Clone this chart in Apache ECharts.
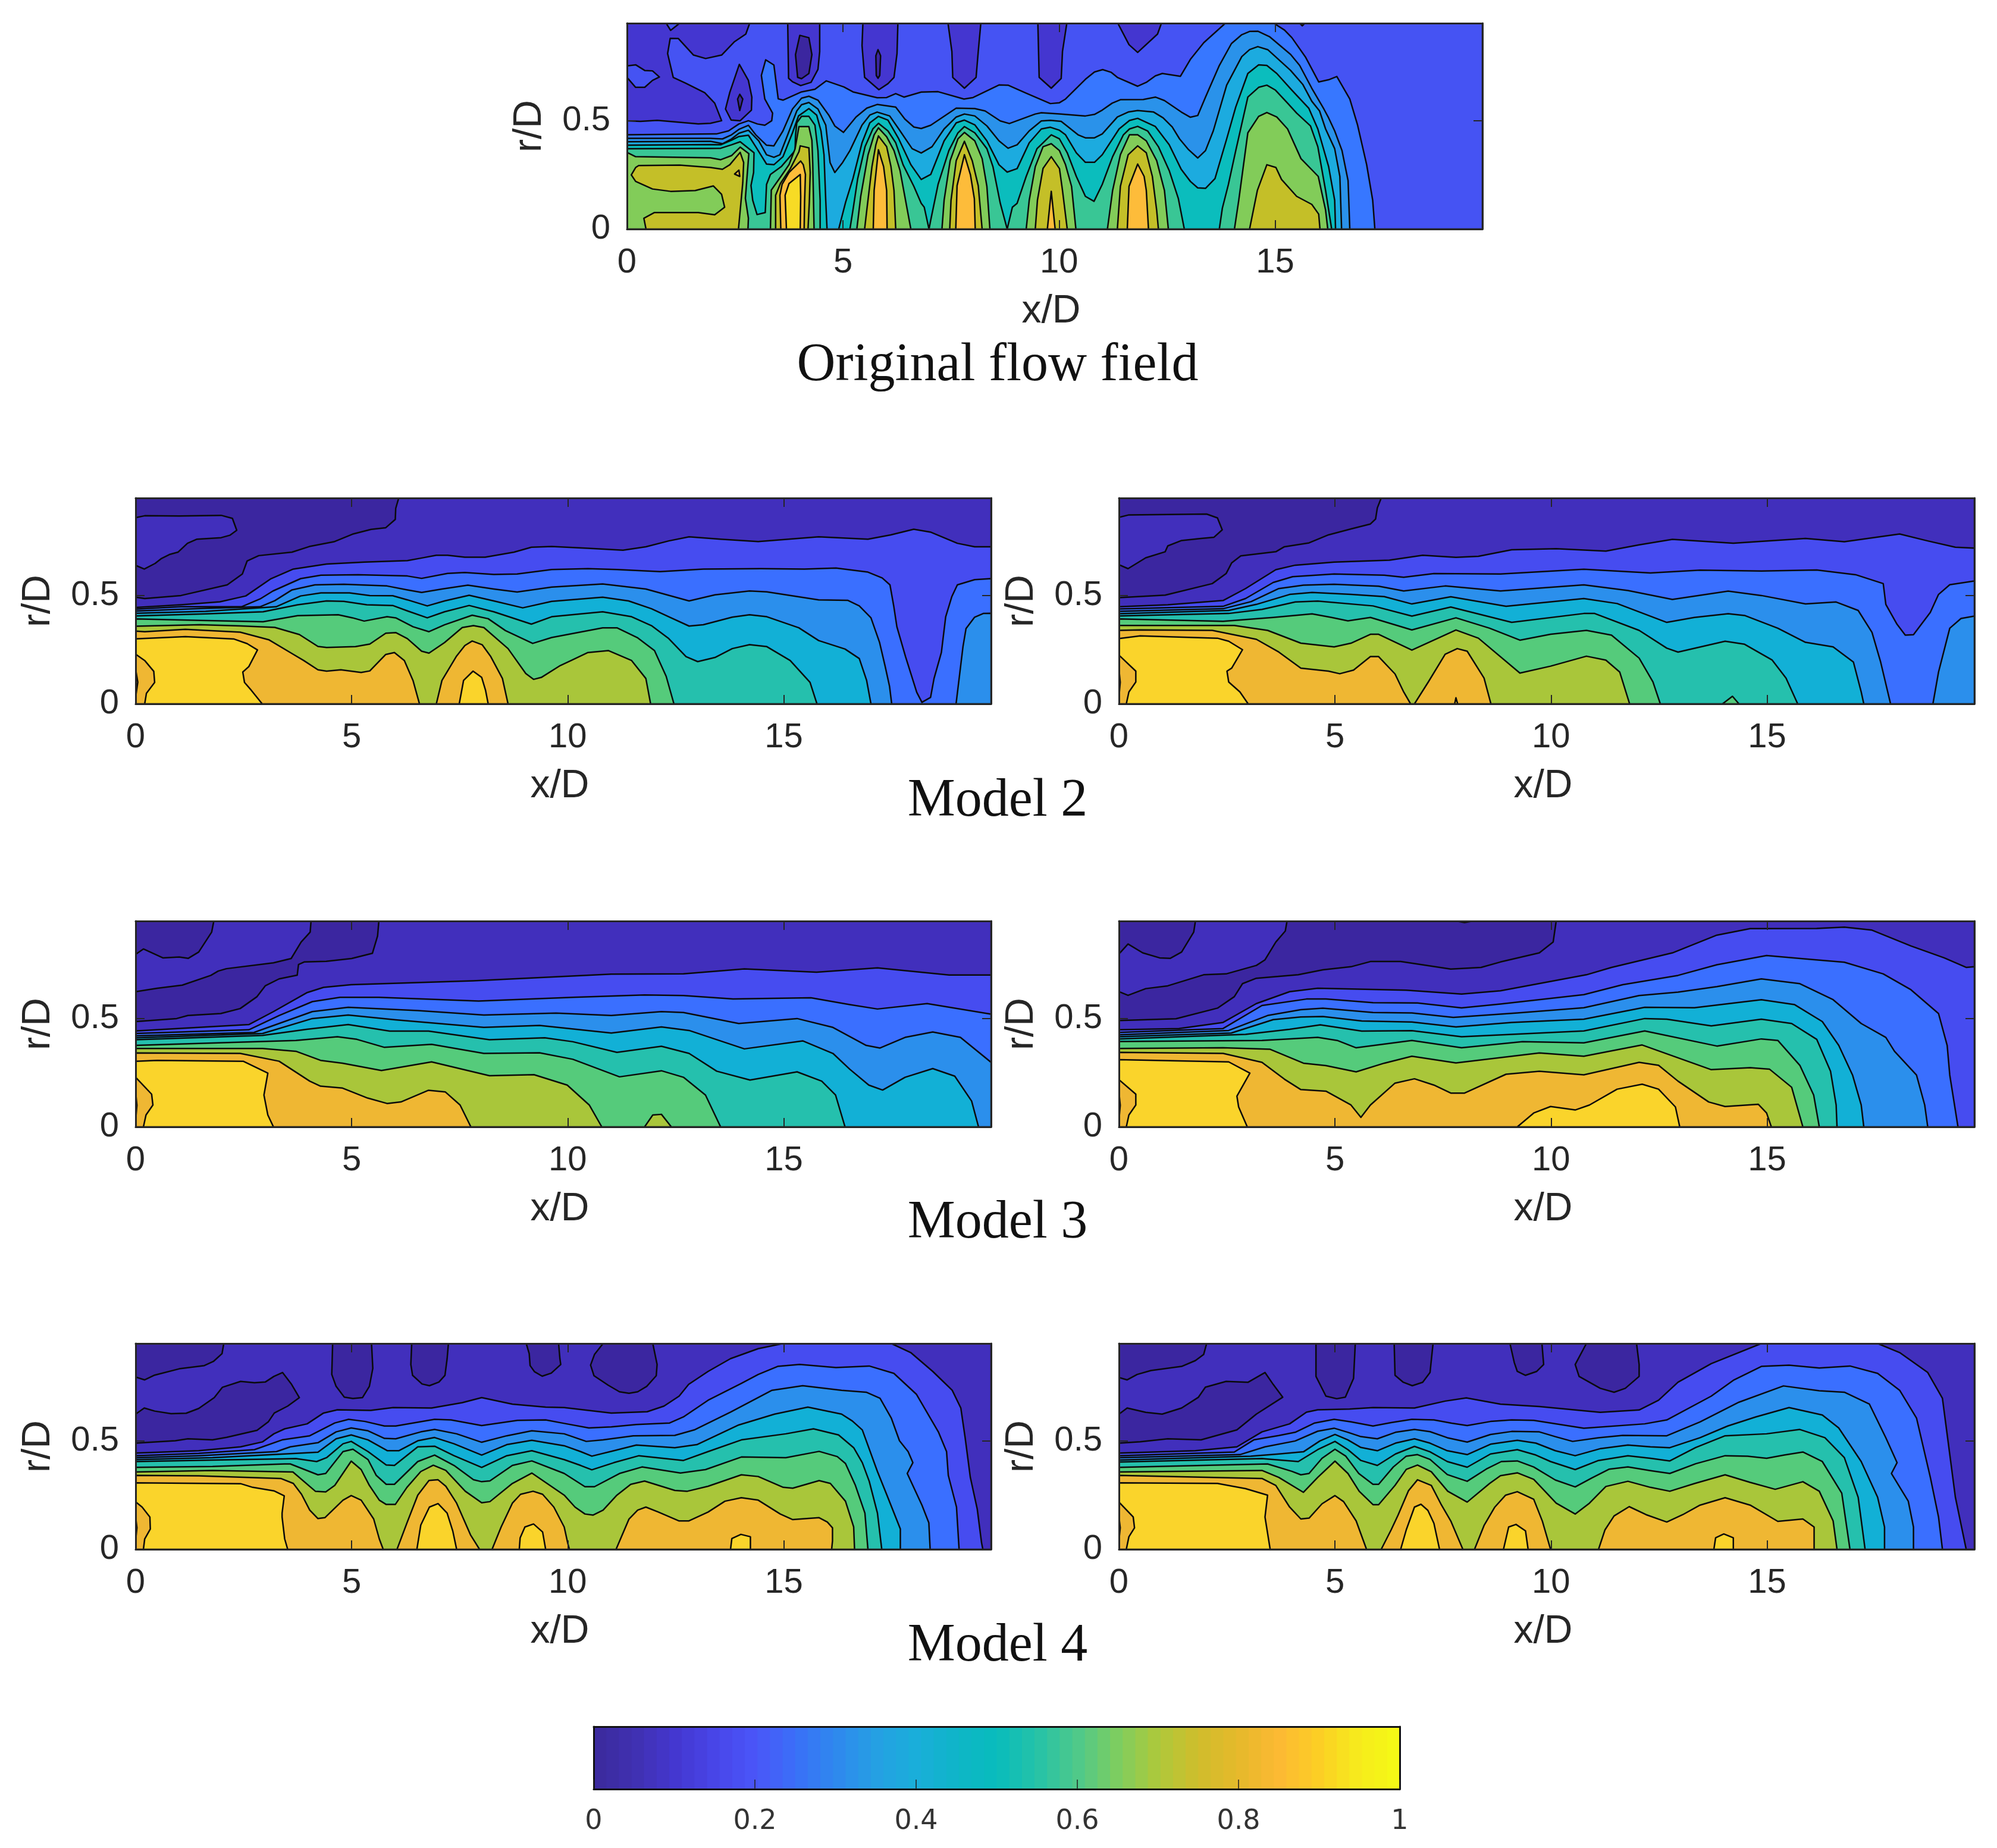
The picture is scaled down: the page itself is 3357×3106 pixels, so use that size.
<!DOCTYPE html>
<html><head><meta charset="utf-8"><style>html,body{margin:0;padding:0;background:#fff}#c{width:3357px;height:3106px}</style>
<script src="https://cdn.jsdelivr.net/npm/echarts@6/dist/echarts.min.js"></script></head><body><div id="c"></div>
<script>
// Tick labels
const xTicks=[0,5,10,15], rTicks=[0,0.5], cbTicks=[0,0.2,0.4,0.6,0.8,1];
const titles=['Original flow field','Model 2','Model 3','Model 4'];
// Filled contour regions: [band, [x,r, x,r, ...]] painted in order
const origRegions=[
[2,[0,0,19.8,0,19.8,.95,0,.95]],
[1,[0,.95,.907,.95,1.01,.917,1.22,.95,2.84,.95,2.75,.9,2.49,.865,2.19,.803,1.82,.787,1.54,.803,1.19,.879,1,.88,.94,.81,1.07,.7,1.36,.673,1.8,.629,2.03,.581,2.19,.5,1.93,.488,1.65,.485,.7,.502,.31,.497,0,.5,0,.7,.2,.654,.41,.654,.59,.686,.75,.702,.59,.73,.41,.732,.2,.758,0,.753]],
[1,[2.6,.76,2.81,.686,2.89,.609,2.88,.549,2.62,.5,2.41,.503,2.28,.554,2.38,.631]],
[0,[2.61,.622,2.68,.6,2.61,.547,2.56,.6]],
[1,[3.72,.95,3.74,.696,3.83,.68,4.02,.662,4.26,.677,4.42,.737,4.46,.819,4.46,.95]],
[0,[4,.894,4.21,.883,4.28,.805,4.21,.718,4.04,.694,3.95,.7,3.9,.805]],
[1,[5.46,.95,5.44,.847,5.5,.7,5.83,.643,6.04,.671,6.18,.7,6.25,.81,6.27,.95]],
[0,[5.81,.828,5.87,.8,5.85,.709,5.81,.696,5.77,.709,5.76,.8]],
[1,[7.43,.95,7.52,.819,7.54,.7,7.81,.65,8.08,.7,8.13,.819,8.19,.95]],
[1,[9.51,.95,9.54,.7,9.82,.65,10.05,.695,10.08,.82,10.18,.95]],
[1,[11.36,.95,11.62,.851,11.82,.815,12.28,.9,12.37,.95]],
[1,[15.57,.95,15.63,.938,15.69,.95]],
[3,[0,.435,2.07,.439,2.35,.453,2.59,.485,2.81,.5,3.02,.485,3.19,.479,3.35,.5,3.37,.535,3.19,.6,3.11,.709,3.21,.781,3.4,.757,3.5,.601,3.61,.595,4.04,.633,4.35,.645,4.61,.684,5.02,.656,5.23,.633,5.79,.606,6.01,.607,6.22,.625,6.41,.609,6.81,.632,7.2,.634,7.8,.6,8.01,.607,8.61,.665,8.82,.664,9.24,.627,9.8,.579,10.01,.583,10.15,.6,10.61,.691,10.82,.725,11.01,.736,11.21,.723,11.35,.7,11.82,.659,12.02,.677,12.23,.707,12.39,.718,12.81,.705,13.04,.783,13.35,.86,13.85,.95,14.97,.95,15.22,.918,15.39,.883,15.71,.792,16.01,.679,16.24,.689,16.43,.704,16.73,.6,16.91,.48,17.12,.297,17.26,.133,17.31,0,0,0]],
[4,[0,.419,1.93,.419,2.21,.416,2.42,.435,2.59,.46,2.81,.479,2.98,.435,3.23,.387,3.4,.384,3.61,.453,3.83,.554,4.04,.604,4.21,.613,4.42,.595,4.67,.526,4.81,.476,5.01,.446,5.3,.517,5.55,.558,5.79,.575,6.22,.563,6.43,.508,6.64,.471,6.81,.464,7.03,.479,7.62,.558,8.05,.556,8.29,.545,8.64,.499,8.85,.487,9.45,.531,9.59,.537,10.01,.531,10.61,.522,10.82,.529,11,.549,11.23,.581,11.42,.597,11.95,.598,12.23,.609,12.44,.593,12.83,.54,13.04,.516,13.21,.524,13.39,.609,13.71,.755,13.99,.856,14.23,.897,14.41,.912,14.6,.913,14.87,.888,15.36,.806,15.57,.755,15.85,.65,16.13,.554,16.24,.513,16.38,.453,16.55,.362,16.69,.224,16.73,0,0,0]],
[5,[0,.403,1.93,.405,2.21,.394,2.42,.416,2.59,.442,2.81,.456,3.05,.407,3.23,.343,3.4,.331,3.54,.343,3.72,.435,3.93,.545,4.04,.574,4.21,.584,4.42,.554,4.6,.48,4.7,.307,4.81,.261,4.99,.307,5.16,.362,5.44,.48,5.62,.526,5.79,.54,6.08,.522,6.29,.462,6.6,.371,6.81,.351,7.06,.38,7.34,.462,7.62,.517,7.81,.531,8.05,.522,8.33,.476,8.61,.407,8.82,.373,9.03,.389,9.31,.453,9.59,.499,9.8,.502,10.05,.497,10.44,.435,10.61,.421,10.82,.421,11,.439,11.35,.517,11.6,.54,11.82,.547,12.19,.54,12.41,.513,12.62,.471,12.79,.416,13,.366,13.21,.328,13.39,.362,13.57,.453,13.88,.664,14.23,.796,14.41,.828,14.6,.842,14.83,.828,15.08,.783,15.36,.732,15.64,.668,15.85,.59,16.03,.545,16.17,.462,16.38,.371,16.5,.243,16.54,0,0,0]],
[6,[0,.387,1.93,.39,2.17,.389,2.42,.41,2.59,.427,2.81,.433,2.98,.38,3.23,.3,3.4,.297,3.61,.334,3.83,.444,3.97,.522,4.21,.556,4.39,.526,4.49,.453,4.56,.343,4.6,.133,4.63,0,0,0]],
[6,[4.9,0,5.06,.124,5.23,.233,5.44,.398,5.62,.49,5.82,.52,6.04,.503,6.29,.416,6.57,.297,6.81,.229,7.03,.252,7.34,.407,7.62,.49,7.81,.503,8.05,.481,8.33,.407,8.61,.297,8.8,.263,9.03,.279,9.31,.398,9.59,.462,9.8,.47,10.01,.456,10.15,.435,10.4,.352,10.61,.308,10.82,.308,11,.343,11.39,.462,11.63,.501,11.82,.511,12.23,.473,12.55,.389,12.83,.275,13.04,.22,13.21,.19,13.39,.188,13.61,.233,13.88,.416,14.09,.563,14.37,.718,14.62,.758,14.81,.755,15.04,.718,15.39,.641,15.78,.558,15.99,.462,16.24,.288,16.38,.133,16.4,0]],
[7,[0,.371,1.93,.372,2.17,.373,2.42,.389,2.62,.403,2.94,.352,2.93,.261,2.87,.201,2.91,.133,3.01,.067,3.2,.076,3.23,.206,3.32,.252,3.57,.288,3.89,.362,3.9,.43,3.93,.49,4.04,.52,4.21,.52,4.35,.48,4.42,.362,4.47,.133,4.47,0,0,0]],
[7,[5.16,0,5.23,.087,5.34,.233,5.51,.38,5.69,.462,5.82,.488,6.04,.453,6.22,.398,6.39,.297,6.64,.197,6.81,.119,6.88,.101,6.99,0,7.03,.041,7.2,.206,7.45,.362,7.66,.444,7.81,.473,8.05,.444,8.33,.371,8.47,.288,8.64,.119,8.8,0,8.92,.101,9.03,.119,9.24,.243,9.49,.371,9.82,.435,10.01,.416,10.19,.352,10.4,.243,10.61,.151,10.81,.128,11,.206,11.24,.334,11.49,.435,11.63,.462,11.82,.474,12.05,.453,12.3,.38,12.55,.27,12.76,.142,12.9,0]],
[7,[13.71,0,13.78,.096,13.92,.206,14.09,.362,14.37,.609,14.62,.654,14.81,.664,15.01,.641,15.29,.581,15.5,.535,15.82,.476,15.99,.38,16.17,.178,16.31,0]],
[8,[0,.354,.2,.334,1.93,.329,2.17,.32,2.42,.339,2.62,.378,2.82,.348,2.74,.142,2.81,.05,2.8,0,0,0]],
[8,[3.32,0,3.34,.18,3.57,.245,3.75,.297,3.89,.37,3.98,.473,4.21,.473,4.28,.41,4.3,.3,4.33,0]],
[8,[5.32,0,5.41,.151,5.58,.343,5.72,.435,5.82,.467,6.01,.426,6.18,.362,6.32,.27,6.45,.13,6.57,0]],
[8,[7.29,0,7.34,.133,7.48,.316,7.66,.416,7.81,.446,8.05,.407,8.22,.325,8.33,.197,8.4,0]],
[8,[9.24,0,9.31,.133,9.45,.288,9.63,.38,9.82,.394,10.01,.362,10.15,.297,10.29,.197,10.39,0]],
[8,[11.12,0,11.24,.178,11.42,.343,11.63,.435,11.82,.435,12.02,.407,12.26,.316,12.44,.178,12.53,0]],
[8,[14.06,0,14.16,.133,14.37,.444,14.62,.52,14.81,.538,15.04,.517,15.29,.462,15.6,.325,16,.243,16.17,.087,16.22,0]],
[9,[.1,.25,.2,.284,.27,.293,1.22,.295,1.93,.284,2.21,.276,2.38,.297,2.62,.354,2.7,.307,2.68,.215,2.58,0,.44,0,.39,.05,.63,.076,1.65,.076,2.03,.066,2.26,.101,2.19,.16,2,.199,1.58,.178,1.01,.174,.59,.185,.2,.22]],
[10,[2.59,.272,2.49,.254,2.61,.243]],
[9,[3.44,0,3.44,.156,3.55,.21,3.78,.279,3.98,.357,4.01,.384,4.21,.375,4.24,.261,4.22,.124,4.19,0]],
[10,[3.56,0,3.54,.156,3.59,.206,3.75,.261,4.02,.314,4.08,.297,4.13,.252,4.11,.124,4.1,0]],
[11,[3.69,0,3.66,.156,3.75,.21,4.01,.252,4.02,.15,4.01,0]],
[9,[5.5,0,5.55,.087,5.67,.288,5.76,.389,5.82,.43,6.01,.38,6.11,.288,6.18,.178,6.22,0]],
[10,[5.7,0,5.72,.178,5.82,.366,5.94,.288,6.01,.178,6.02,0]],
[9,[7.47,0,7.5,.133,7.62,.316,7.81,.405,7.99,.316,8.13,.2,8.22,0]],
[10,[7.61,0,7.64,.2,7.81,.343,7.95,.25,8.04,.14,8.06,0]],
[9,[9.45,0,9.5,.133,9.63,.28,9.82,.334,10.01,.279,10.08,.178,10.19,0]],
[10,[9.73,0,9.82,.174,9.91,0]],
[9,[11.35,0,11.42,.197,11.6,.343,11.82,.384,12.02,.352,12.16,.243,12.26,.087,12.3,0]],
[10,[11.58,0,11.62,.197,11.82,.3,11.97,.243,12.02,.178,12.07,0]],
[9,[14.41,0,14.59,.178,14.81,.297,15.02,.284,15.15,.229,15.5,.151,15.85,.114,16.01,.069,16.04,0]]
];
const model2LeftRegions=[
[0,[0,0,19.8,0,19.8,.95,0,.95]],
[1,[0,.859,.21,.868,1.01,.867,1.98,.87,2.24,.856,2.34,.801,2.18,.778,1.98,.767,1.42,.76,1.2,.741,.98,.7,.78,.689,.6,.671,.45,.648,.2,.622,0,.639]],
[1,[0,.492,.21,.486,1.05,.5,2.12,.549,2.47,.599,2.58,.659,2.85,.684,3.62,.7,4.02,.726,4.59,.748,5.02,.783,5.45,.805,5.79,.813,6.01,.851,6.02,.902,6.09,.95,19.8,.95,19.8,0,0,0]],
[2,[0,.445,1.05,.457,1.95,.471,2.55,.498,3.12,.576,3.65,.622,4.42,.645,5.29,.654,6.29,.661,6.62,.673,6.96,.686,7.22,.686,7.62,.677,8.09,.677,8.76,.7,9.16,.723,9.63,.726,10.47,.718,11.28,.709,11.81,.725,12.34,.752,12.81,.771,13.54,.76,14.41,.749,15.81,.771,16.95,.76,17.48,.78,18.01,.806,18.41,.792,19.02,.741,19.42,.725,19.8,.725,19.8,0,0,0]],
[3,[0,.437,1.05,.448,2.45,.448,2.88,.484,3.18,.521,3.82,.578,4.29,.594,5.15,.596,6.29,.59,6.62,.579,7.22,.602,7.62,.606,8.29,.597,8.83,.599,9.63,.62,10.47,.624,11.14,.62,12.14,.61,13.14,.622,14.48,.624,15.48,.622,16.21,.627,16.95,.608,17.28,.581,17.46,.549,17.55,.448,17.62,.356,17.82,.218,18.08,.053,18.2,.007,18.4,.03,18.48,.117,18.65,.237,18.75,.402,18.89,.494,19.02,.549,19.42,.573,19.8,.578,19.8,0,0,0]],
[4,[0,.428,1.5,.44,2.88,.448,3.22,.476,3.62,.526,4.15,.549,4.82,.552,5.82,.544,6.29,.526,6.62,.514,7.09,.53,7.69,.548,8.29,.53,8.83,.516,9.63,.539,10.81,.553,11.81,.53,12.81,.475,13.41,.503,14.21,.521,14.61,.517,15.81,.48,16.48,.478,16.75,.452,17.02,.397,17.22,.283,17.35,.172,17.45,.081,17.5,0,0,0]],
[4,[18.99,0,19.15,.264,19.22,.347,19.42,.4,19.62,.417,19.8,.418,19.8,0]],
[5,[0,.418,1.62,.427,3.25,.448,3.82,.498,4.29,.512,4.95,.512,5.42,.5,5.95,.499,6.29,.48,6.75,.452,7.15,.475,7.72,.501,8.29,.475,8.96,.443,9.63,.473,10.81,.492,11.41,.475,11.94,.439,12.34,.402,12.81,.359,13.14,.365,13.81,.4,14.21,.411,14.61,.402,15.35,.351,15.81,.292,16.42,.253,16.75,.209,16.92,.108,17.02,0,0,0]],
[6,[0,.406,1.62,.415,2.95,.425,3.75,.457,4.42,.475,4.82,.473,5.35,.457,5.95,.454,6.29,.429,6.75,.397,7.15,.425,7.72,.454,8.29,.425,9.16,.368,9.63,.402,10.81,.425,11.48,.402,11.94,.361,12.34,.301,12.74,.218,13.01,.195,13.41,.214,13.81,.255,14.21,.273,14.61,.264,15.15,.2,15.61,.099,15.77,0,0,0]],
[7,[0,.392,1.5,.385,2.95,.379,3.75,.407,4.69,.411,5.02,.397,5.29,.382,5.82,.402,6.02,.397,6.42,.356,6.79,.333,7.15,.365,7.79,.409,8.16,.393,8.56,.338,9.19,.279,9.63,.306,10.21,.328,10.81,.351,11.14,.351,11.61,.306,12.01,.246,12.28,.127,12.46,0,0,0]],
[8,[0,.358,1.49,.365,2.42,.36,3.22,.353,3.79,.32,4.22,.265,4.42,.26,5.09,.264,5.42,.276,5.79,.326,6.02,.329,6.29,.301,6.62,.243,6.79,.234,7.15,.283,7.56,.352,7.82,.361,8.06,.352,8.62,.255,9.03,.14,9.21,.113,9.39,.122,9.83,.177,10.08,.2,10.47,.237,10.94,.246,11.48,.2,11.81,.117,11.92,0,0,0]],
[9,[0,.336,.21,.333,1.15,.344,2.42,.331,3.08,.296,3.62,.232,3.89,.2,4.22,.157,4.42,.151,4.75,.157,5.22,.145,5.42,.152,5.79,.228,5.99,.237,6.22,.2,6.42,.108,6.57,0,0,0]],
[9,[6.96,0,7.09,.108,7.42,.218,7.62,.269,7.79,.29,8.02,.273,8.22,.218,8.49,.117,8.62,0]],
[10,[0,.3,1.15,.31,2.28,.299,2.58,.278,2.82,.249,2.62,.172,2.48,.147,2.52,.099,2.68,.062,2.93,0,.21,0,.25,.049,.44,.099,.42,.15,.21,.2,0,.229]],
[10,[7.49,0,7.59,.108,7.81,.151,8.01,.122,8.1,.062,8.16,0]],
[9,[0,.16,.05,.1,0,.03]]
];
const model2RightRegions=[
[0,[0,0,19.8,0,19.8,.95,0,.95]],
[1,[0,.861,.23,.872,2.03,.876,2.28,.858,2.39,.803,2.2,.769,1.9,.763,1.45,.754,1.13,.729,1.07,.702,.62,.674,.21,.624,0,.642]],
[1,[0,.49,1.07,.502,2.16,.555,2.48,.601,2.61,.651,2.82,.683,3.63,.702,3.83,.725,4.4,.743,4.85,.78,5.37,.807,5.82,.83,5.94,.853,5.98,.904,6.07,.95,19.8,.95,19.8,0,0,0]],
[2,[0,.448,1.13,.457,2.41,.477,2.93,.532,3.63,.619,4.08,.64,4.98,.654,6.26,.663,7.03,.686,7.8,.676,8.32,.681,9.09,.711,10.12,.716,11.27,.705,12.04,.734,12.81,.759,14.22,.741,15.89,.763,16.79,.748,18.07,.784,18.72,.752,19.36,.723,19.8,.719,19.8,0,0,0]],
[3,[0,.438,2.41,.45,2.93,.486,3.57,.56,4.02,.587,4.98,.599,6.14,.594,6.59,.584,7.29,.601,8.83,.599,10.76,.621,12.3,.604,13.45,.617,14.87,.613,16.15,.618,17.05,.596,17.69,.555,17.75,.459,18.01,.367,18.2,.317,18.39,.319,18.78,.422,18.97,.505,19.23,.55,19.8,.567,19.8,0,0,0]],
[4,[0,.427,2.41,.439,3.06,.472,3.7,.532,4.27,.548,4.98,.552,6.01,.543,6.59,.521,7.55,.544,8.83,.521,10.76,.549,11.78,.523,12.81,.482,14.1,.52,14.87,.5,15.89,.461,16.6,.47,17.11,.431,17.43,.33,17.63,.193,17.86,0,0,0]],
[4,[18.84,0,18.97,.147,19.23,.349,19.49,.394,19.8,.405,19.8,0]],
[5,[0,.416,2.54,.431,3.18,.459,3.95,.505,4.47,.514,5.37,.505,6.14,.495,6.78,.461,7.68,.494,8.96,.45,10.76,.486,11.53,.463,12.68,.376,13.32,.399,14.1,.416,14.48,.408,15.25,.349,15.89,.284,16.53,.263,17,.193,17.18,.055,17.24,0,0,0]],
[6,[0,.406,2.54,.417,3.31,.436,4.08,.47,4.6,.474,5.88,.452,6.78,.405,7.68,.447,9.09,.376,10.76,.417,11.01,.417,12.04,.339,12.68,.257,12.94,.239,14.03,.289,14.48,.275,15.12,.202,15.44,.119,15.71,0,0,0]],
[7,[0,.392,2.41,.381,3.57,.399,4.47,.415,4.92,.399,5.3,.383,5.82,.399,6.78,.341,7.8,.397,8.58,.349,9.28,.294,9.99,.321,10.82,.339,11.4,.317,12.04,.211,12.36,.101,12.53,0,0,0]],
[7,[13.97,0,14.2,.035,14.35,0]],
[8,[0,.362,2.67,.362,3.44,.339,4.21,.28,4.98,.263,5.37,.28,5.82,.321,6.01,.321,6.78,.248,7.8,.341,8.32,.303,9.28,.142,9.99,.174,10.82,.22,11.27,.202,11.59,.147,11.82,0,0,0]],
[9,[0,.339,.49,.341,2.16,.339,3.18,.298,3.7,.239,4.21,.165,4.85,.151,5.11,.139,5.43,.156,5.82,.218,6.01,.218,6.39,.138,6.59,.055,6.75,0,0,0]],
[9,[6.84,0,7.16,.101,7.55,.229,7.83,.255,8.06,.243,8.45,.119,8.61,0]],
[10,[0,.301,.49,.314,2.28,.303,2.54,.289,2.86,.25,2.61,.165,2.5,.151,2.54,.101,2.8,.055,2.99,0,.17,0,.23,.055,.39,.101,.39,.151,0,.225]],
[10,[7.77,0,7.8,.028,7.84,0]],
[9,[0,.16,.03,.1,0,.03]]
];
const model3LeftRegions=[
[0,[0,0,19.8,0,19.8,.95,0,.95]],
[1,[0,.796,.18,.821,.63,.78,1.01,.784,1.22,.778,1.46,.807,1.76,.899,1.81,.95,4.06,.95,4.04,.899,3.83,.853,3.6,.777,3.19,.757,2.1,.73,1.91,.719,1.74,.699,1.08,.654,.5,.64,0,.624]],
[1,[0,.486,.95,.5,1.21,.514,1.97,.523,2.42,.546,2.81,.601,3,.651,3.32,.683,3.74,.7,3.77,.749,3.9,.761,4.41,.764,5,.777,5.48,.801,5.6,.881,5.63,.95,19.8,.95,19.8,0,0,0]],
[2,[0,.443,2.62,.472,3.19,.532,3.96,.619,4.35,.644,4.99,.656,7.81,.674,11.01,.705,12.68,.706,14.09,.729,15.76,.714,17.17,.734,18.83,.701,19.8,.701,19.8,0,0,0]],
[3,[0,.431,2.62,.448,3.32,.514,4.09,.578,4.73,.598,5.63,.598,7.94,.581,10.12,.598,11.78,.609,12.68,.606,13.83,.59,15.63,.596,16.53,.564,17.17,.544,18.32,.569,19.8,.52,19.8,0,0,0]],
[4,[0,.42,2.74,.436,4.09,.532,4.92,.552,6.53,.537,8.06,.516,9.73,.525,11.01,.514,12.17,.532,12.68,.528,13.96,.477,15.31,.5,16.14,.459,16.91,.376,17.23,.364,17.81,.413,18.45,.438,19.09,.413,19.8,.298,19.8,0,0,0]],
[5,[0,.411,2.94,.431,4.09,.5,4.92,.516,6.01,.494,8.06,.459,9.35,.468,11.01,.433,12.17,.461,12.81,.445,14.09,.36,15.44,.397,16.14,.339,16.53,.266,16.97,.193,17.29,.17,17.81,.229,18.45,.269,18.96,.234,19.35,.119,19.51,0,0,0]],
[6,[0,.402,2.94,.422,3.96,.45,4.92,.472,5.88,.442,6.78,.442,8.19,.402,9.47,.411,10.12,.393,11.14,.344,12.17,.372,12.81,.339,13.45,.257,14.22,.216,15.31,.254,15.88,.211,16.2,.147,16.42,0,0,0]],
[7,[0,.376,3.71,.399,4.67,.416,5.12,.404,5.76,.367,6.85,.381,8.06,.339,9.35,.342,10.12,.312,11.2,.231,12.17,.259,12.68,.229,13.19,.147,13.54,0,0,0]],
[8,[0,.362,2.94,.362,3.71,.349,4.28,.307,4.79,.294,5.69,.26,6.85,.3,8.19,.236,9.22,.241,9.99,.193,10.5,.101,10.79,0,0,0]],
[8,[11.78,0,11.97,.055,12.17,.058,12.4,0]],
[9,[0,.341,2.42,.339,3.32,.303,4.03,.211,4.28,.188,4.79,.179,5.37,.133,5.82,.108,6.14,.115,6.78,.169,7.17,.161,7.51,.101,7.76,0,0,0]],
[10,[0,.303,.5,.307,2.49,.303,3.06,.248,2.97,.147,3.06,.055,3.19,0,.18,0,.24,.055,.4,.101,.37,.151,0,.229]],
[9,[0,.16,.03,.1,0,.03]]
];
const model3RightRegions=[
[0,[0,0,19.8,0,19.8,.95,0,.95]],
[1,[0,.798,.21,.844,.55,.803,.94,.78,1.19,.778,1.45,.807,1.73,.899,1.77,.95,3.89,.95,3.85,.904,3.63,.853,3.38,.771,3.18,.745,2.48,.706,1.96,.702,1.13,.651,.62,.638,.21,.607,0,.624]],
[1,[0,.491,1.32,.499,2.28,.548,2.67,.601,2.86,.661,3.18,.686,4.15,.702,4.72,.725,5.37,.739,5.82,.763,6.52,.763,7.68,.728,8.38,.736,8.83,.761,9.73,.803,10.05,.853,10.12,.95,19.8,.95,19.8,0,0,0]],
[1,[7.8,.95,8,.943,8.2,.95]],
[2,[0,.448,1.39,.454,2.41,.482,3.18,.569,3.95,.624,4.6,.64,6.65,.631,7.93,.613,8.83,.628,10.82,.702,11.4,.736,12.81,.803,13.84,.885,14.61,.915,16.15,.916,16.79,.922,17.43,.908,18.33,.835,19.1,.78,19.61,.736,19.8,.739,19.8,0,0,0]],
[3,[0,.436,2.41,.454,3.31,.56,4.34,.59,4.79,.59,5.88,.573,6.91,.572,7.93,.549,8.83,.567,10.76,.61,11.66,.656,12.94,.699,13.84,.748,14.99,.791,15.89,.775,16.79,.76,17.69,.706,18.33,.633,18.97,.523,19.17,.376,19.23,.239,19.42,0,0,0]],
[4,[0,.425,2.54,.445,3.44,.514,4.21,.541,4.72,.548,5.88,.528,6.78,.526,7.74,.505,9.22,.526,10.76,.55,12.04,.606,12.94,.622,13.84,.647,14.87,.683,15.76,.661,16.53,.587,17.18,.477,17.75,.413,17.95,.349,18.46,.239,18.65,.101,18.72,0,0,0]],
[5,[0,.416,2.6,.433,3.57,.495,4.21,.507,4.72,.509,5.62,.489,6.78,.484,7.8,.461,9.09,.482,10.76,.497,12.17,.552,13.32,.55,14.87,.587,15.64,.564,16.28,.486,16.66,.376,16.98,.239,17.18,.101,17.24,0,0,0]],
[6,[0,.406,2.93,.427,3.95,.45,4.66,.471,5.62,.442,6.78,.444,7.93,.416,10.76,.443,12.17,.5,12.68,.497,13.71,.466,14.87,.497,15.57,.477,16.15,.404,16.47,.257,16.6,.101,16.62,0,0,0]],
[7,[0,.394,3.31,.399,4.6,.413,5.05,.399,5.49,.365,6.78,.399,7.93,.365,9.34,.393,10.76,.388,12.17,.443,13.84,.373,14.87,.406,15.25,.399,15.76,.284,16.08,.147,16.21,0,0,0]],
[8,[0,.362,2.41,.365,3.5,.358,4.27,.294,4.79,.283,5.49,.254,6.14,.294,6.78,.326,7.8,.295,9.73,.341,10.76,.326,12.11,.378,13.71,.264,14.61,.273,15.06,.266,15.57,.183,15.83,0,0,0]],
[9,[0,.344,2.41,.339,3.31,.298,3.83,.22,4.21,.172,4.79,.165,5.37,.101,5.6,.044,5.82,.101,6.39,.202,6.84,.222,7.29,.193,7.68,.156,8,.156,8.96,.243,9.73,.257,10.76,.24,12.04,.298,12.49,.284,12.94,.211,13.65,.115,14.03,.094,14.8,.104,14.99,.064,15.1,0,0,0]],
[10,[0,.31,2.54,.3,3.03,.248,2.73,.142,2.77,.092,2.97,0,.17,0,.23,.055,.39,.101,.39,.151,0,.218]],
[10,[9.22,0,9.6,.064,9.99,.094,10.56,.078,10.89,.101,11.53,.174,12.11,.197,12.49,.174,12.88,.092,12.98,0]],
[9,[0,.16,.03,.1,0,.03]]
];
const model4LeftRegions=[
[1,[0,0,19.8,0,19.8,.95,0,.95]],
[0,[0,.95,2.04,.95,2,.903,1.8,.867,1.59,.848,1.01,.833,.44,.804,.21,.782,0,.795]],
[0,[0,.624,.2,.652,.44,.638,.82,.626,1.17,.628,1.46,.65,1.82,.7,2.01,.748,2.43,.775,2.75,.769,3,.772,3.2,.798,3.4,.816,3.61,.761,3.79,.7,3.52,.661,3.21,.629,3.07,.588,2.81,.549,2.11,.517,1.78,.505,1.21,.51,.92,.501,0,.49]],
[0,[4.56,.95,4.54,.807,4.64,.752,4.83,.702,5.03,.696,5.25,.7,5.41,.752,5.49,.835,5.46,.95]],
[0,[6.39,.95,6.37,.853,6.41,.803,6.63,.763,6.8,.755,7.02,.772,7.16,.803,7.21,.88,7.24,.95]],
[0,[9.04,.95,9.11,.903,9.13,.848,9.23,.82,9.41,.799,9.62,.813,9.84,.853,9.82,.88,9.79,.95]],
[0,[10.82,.95,10.62,.899,10.53,.85,10.61,.801,10.94,.757,11.2,.727,11.42,.72,11.62,.727,11.83,.752,12.05,.801,12.07,.853,11.97,.95]],
[2,[0,.444,1.46,.455,2.43,.473,2.94,.496,3.2,.533,3.45,.556,3.97,.579,4.35,.629,4.67,.644,5.44,.641,5.96,.654,6.85,.652,7.56,.677,8.01,.7,8.72,.67,9.49,.656,9.92,.654,11.01,.629,11.84,.635,12.23,.661,12.58,.707,12.8,.761,13.25,.821,13.77,.88,14.41,.926,14.99,.95,17.49,.95,17.94,.908,18.45,.821,18.9,.734,19.1,.652,19.2,.515,19.32,.332,19.48,.186,19.58,.03,19.61,0,0,0]],
[3,[0,.432,1.46,.443,2.75,.46,3.39,.505,4.03,.524,4.61,.583,4.93,.6,5.31,.59,5.76,.569,6.02,.569,6.92,.6,7.3,.597,8.01,.571,8.84,.595,9.49,.597,9.92,.581,10.49,.56,11.01,.565,11.59,.576,12.36,.583,12.68,.611,13.25,.688,14.02,.766,14.41,.807,14.86,.844,15.37,.853,16.21,.839,16.98,.846,17.55,.812,18.07,.716,18.58,.542,18.77,.451,18.81,.341,19,.195,19.06,0,0,0]],
[4,[0,.423,1.46,.432,3.26,.451,3.58,.473,4.22,.492,4.64,.542,4.99,.56,5.38,.547,5.76,.512,6.02,.51,6.6,.542,6.92,.553,7.43,.533,8.01,.494,8.59,.524,9.17,.547,9.92,.533,10.43,.498,10.82,.505,11.52,.524,12.48,.526,12.93,.551,13.77,.633,14.73,.734,15.44,.755,16.34,.734,16.91,.725,17.23,.697,17.49,.606,17.68,.501,17.88,.451,17.99,.4,17.86,.35,18.2,.204,18.36,.122,18.39,0,0,0]],
[5,[0,.414,1.78,.423,3.71,.443,4.22,.448,4.64,.51,4.99,.528,5.38,.505,5.83,.455,6.09,.455,6.53,.501,6.92,.516,7.37,.487,8.01,.435,8.59,.483,9.17,.503,9.92,.478,10.3,.451,10.56,.43,11.07,.455,11.59,.481,12.48,.469,12.99,.483,13.96,.574,14.79,.624,15.56,.656,16.34,.624,16.59,.592,16.82,.551,17.17,.359,17.39,.25,17.7,.094,17.7,0,0,0]],
[6,[0,.405,1.78,.412,3.39,.417,3.71,.419,4.19,.405,4.42,.423,4.8,.487,4.99,.498,5.38,.451,5.8,.389,5.99,.387,6.53,.473,6.92,.476,7.37,.432,8.01,.378,8.59,.432,9.17,.455,9.92,.414,10.3,.387,10.56,.367,11.07,.4,11.65,.432,12.68,.41,13.25,.451,14.02,.505,15.05,.533,15.69,.556,16.27,.528,16.62,.469,16.82,.4,16.98,.314,17.17,.167,17.27,0,0,0]],
[7,[0,.378,1.78,.382,3.45,.394,3.58,.394,4.22,.344,4.4,.35,4.8,.451,5.03,.462,5.38,.414,5.57,.341,5.8,.3,5.99,.3,6.53,.405,6.92,.435,7.37,.387,7.82,.321,8.01,.312,8.2,.316,8.72,.387,9.17,.408,9.92,.35,10.4,.289,10.62,.289,11.2,.35,11.72,.38,12.61,.352,13.19,.368,14.02,.426,15.05,.423,15.82,.452,16.24,.428,16.43,.396,16.66,.295,16.88,.167,16.95,0,0,0]],
[8,[0,.357,1.78,.364,3.64,.357,4.16,.268,4.4,.265,4.61,.295,4.99,.407,5.22,.368,5.41,.295,5.64,.227,5.8,.207,6.01,.207,6.28,.286,6.6,.359,6.89,.388,7.18,.364,7.63,.268,8.01,.215,8.2,.22,8.72,.304,9.17,.352,9.92,.25,10.17,.195,10.4,.163,10.59,.158,10.82,.181,11.14,.25,11.46,.3,11.78,.315,12.48,.272,12.77,.268,13.25,.291,14.02,.344,14.41,.336,14.99,.286,15.21,.282,15.82,.317,16.08,.304,16.43,.222,16.62,.103,16.64,0,0,0]],
[9,[0,.341,1.46,.339,3.36,.327,3.65,.304,3.84,.254,4.03,.181,4.22,.142,4.38,.146,4.8,.227,4.99,.248,5.22,.227,5.51,.14,5.64,.048,5.73,0,0,0]],
[9,[6.05,0,6.28,.122,6.53,.25,6.79,.318,7,.321,7.18,.291,7.43,.213,7.75,.067,7.96,0]],
[9,[8.25,0,8.46,.103,8.72,.213,8.91,.254,9.2,.268,9.42,.254,9.68,.195,9.92,.103,10,.03,10.04,0]],
[9,[11.12,0,11.42,.14,11.62,.181,11.81,.195,12.1,.172,12.58,.131,12.8,.131,13.25,.172,13.64,.222,14.02,.238,14.41,.227,14.92,.163,15.21,.137,15.82,.146,16.01,.126,16.13,.099,16.13,.039,16.11,0]],
[10,[0,.307,2.43,.303,2.71,.286,3.2,.27,3.44,.247,3.39,.167,3.39,.149,3.45,.048,3.52,0,.18,0,.21,.048,.34,.094,.33,.149,.15,.195,0,.219]],
[10,[6.51,0,6.6,.112,6.8,.195,7,.211,7.21,.167,7.34,.085,7.43,0]],
[10,[8.88,0,8.9,.053,9.01,.103,9.21,.117,9.42,.08,9.49,0]],
[10,[13.77,0,13.8,.05,14.01,.069,14.23,.058,14.23,0]],
[9,[0,.15,.03,.1,0,.04]]
];
const model4RightRegions=[
[1,[0,0,19.8,0,19.8,.95,0,.95]],
[0,[0,.95,2.03,.95,1.96,.899,1.77,.871,1.45,.844,.74,.825,.42,.807,.19,.782,0,.793]],
[0,[0,.624,.19,.652,.62,.632,1,.624,1.45,.652,1.84,.702,2,.748,2.48,.775,2.99,.771,3.38,.816,3.57,.761,3.79,.702,3.18,.624,2.73,.551,1.9,.505,1.13,.51,.49,.496,0,.49]],
[0,[4.56,.95,4.56,.798,4.79,.707,5.04,.695,5.24,.702,5.43,.789,5.47,.95]],
[0,[6.37,.95,6.39,.803,6.58,.771,6.79,.755,7.03,.771,7.2,.816,7.27,.95]],
[0,[9.05,.95,9.15,.862,9.22,.821,9.41,.803,9.67,.821,9.83,.853,9.79,.95]],
[0,[10.82,.95,10.56,.853,10.65,.798,11.14,.743,11.46,.725,11.72,.743,12.04,.798,12.04,.853,11.98,.95]],
[2,[0,.444,1.77,.455,2.73,.473,3.31,.542,3.95,.579,4.34,.633,4.6,.644,5.34,.647,5.88,.654,6.84,.652,7.55,.684,8.04,.699,8.83,.67,9.73,.659,11.14,.632,12.04,.643,12.49,.688,12.94,.771,13.71,.857,14.87,.95,17.56,.95,18.07,.908,18.72,.816,19.06,.697,19.36,.24,19.61,0,0,0]],
[3,[0,.432,2.67,.449,3.12,.505,3.7,.525,4.08,.54,4.53,.583,4.98,.6,5.37,.588,5.88,.569,6.3,.585,6.78,.6,7.29,.597,7.7,.582,8.06,.571,8.6,.59,9.09,.597,9.6,.595,10.76,.559,12.17,.579,12.68,.597,13.71,.707,14.22,.78,14.87,.844,15.51,.85,16.21,.837,16.92,.846,17.56,.812,18.07,.734,18.46,.606,18.78,.332,18.97,.149,19.06,0,0,0]],
[4,[0,.423,2.8,.437,3.38,.473,4.08,.5,4.6,.545,4.98,.559,5.3,.54,5.6,.52,5.98,.51,6.4,.54,6.84,.553,7.2,.543,7.6,.515,8.06,.495,8.6,.53,9.09,.544,9.73,.542,10.1,.52,10.5,.498,11.1,.515,11.66,.526,12.68,.524,13.45,.588,14.35,.679,15.38,.754,16.21,.732,16.79,.725,17.37,.67,17.75,.515,18.01,.4,17.88,.35,18.27,.222,18.39,.103,18.39,0,0,0]],
[5,[0,.412,3.05,.43,3.7,.44,4.27,.45,4.65,.5,5,.53,5.3,.505,5.6,.47,5.98,.455,6.4,.49,6.84,.51,7.2,.49,7.6,.455,8.06,.437,8.6,.485,9.22,.503,9.65,.49,10.1,.455,10.56,.432,11.15,.465,11.78,.481,12.3,.473,12.75,.469,13.45,.515,14.09,.569,14.74,.611,15.51,.654,16.28,.62,16.66,.56,17.18,.405,17.56,.24,17.72,.103,17.72,0,0,0]],
[6,[0,.403,3.31,.419,4.15,.405,4.6,.46,5,.498,5.3,.46,5.6,.41,5.98,.387,6.4,.44,6.84,.475,7.2,.45,7.6,.405,8.06,.379,8.6,.44,9.22,.46,9.65,.435,9.99,.405,10.56,.368,11.1,.41,11.78,.432,12.3,.42,12.75,.408,13.35,.47,14.03,.524,14.99,.533,15.76,.553,16.34,.515,16.79,.423,17.11,.24,17.27,0,0,0]],
[7,[0,.378,3.44,.394,4,.36,4.21,.344,4.4,.35,4.7,.42,5,.462,5.25,.43,5.55,.35,5.88,.3,6.01,.3,6.35,.38,6.65,.43,6.91,.437,7.2,.415,7.6,.345,8.06,.314,8.5,.37,8.85,.405,9.22,.408,9.6,.38,10.1,.32,10.56,.288,10.95,.33,11.35,.37,11.78,.38,12.3,.363,12.75,.35,13.35,.395,14.03,.432,14.55,.43,14.99,.42,15.4,.435,15.83,.449,16.28,.405,16.73,.259,16.92,0,0,0]],
[8,[0,.357,3.31,.364,3.7,.332,4.27,.263,4.6,.332,5,.407,5.3,.35,5.56,.268,5.88,.206,6.01,.206,6.39,.295,6.65,.369,6.91,.389,7.23,.358,7.61,.268,8.06,.218,8.58,.304,8.83,.34,9.22,.353,9.6,.323,10.12,.213,10.56,.163,10.89,.213,11.27,.29,11.78,.314,12.3,.286,12.75,.268,13.33,.304,14.03,.344,14.61,.309,15.19,.277,15.83,.312,16.21,.268,16.53,.131,16.62,0,0,0]],
[9,[0,.341,3.31,.327,3.63,.295,3.95,.195,4.21,.14,4.4,.144,4.7,.21,5,.248,5.2,.22,5.49,.131,5.73,0,0,0]],
[9,[6.07,0,6.3,.09,6.46,.158,6.7,.27,6.91,.321,7.23,.295,7.45,.21,7.68,.131,7.96,0]],
[9,[8.23,0,8.45,.11,8.7,.195,8.95,.25,9.22,.266,9.6,.231,9.8,.13,9.99,0]],
[9,[11.1,0,11.25,.09,11.46,.154,11.81,.197,12.2,.16,12.68,.126,13.05,.16,13.45,.204,14.03,.238,14.61,.204,15.25,.129,15.83,.14,16.09,.103,16.09,0]],
[10,[0,.307,2.28,.304,2.93,.28,3.44,.25,3.38,.149,3.5,0,.17,0,.23,.058,.36,.099,.33,.149,0,.218]],
[10,[6.52,0,6.65,.09,6.84,.195,6.99,.208,7.15,.18,7.29,.12,7.42,0]],
[10,[8.9,0,9.02,.103,9.19,.115,9.41,.085,9.47,0]],
[10,[13.77,0,13.81,.053,14,.071,14.22,.053,14.22,0]],
[9,[0,.15,.03,.1,0,.04]]
];
// Colormap of the colour bar
const cbValues=[0,.05,.1,.15,.2,.25,.3,.35,.4,.45,.5,.55,.6,.65,.7,.75,.8,.85,.9,.95,1];
const cbColors=['#3b2a9c','#4030b0','#4437cf','#4845e8','#4a55f8','#3a6ff8','#2f88ee','#25a0e3','#1aaeda','#0fb5c8','#08bcbc','#25c2a8','#4fc98a','#7dcd60','#aec93b','#cfbd2c','#e6b92b','#fcb933','#fccf25','#f6ec1c','#f5fa15'];

// Styles and layout
const origPalette=['#3b269f','#4436d0','#4553f3','#3777ff','#2a92ea','#1cabdf','#0bbdbd','#39c695','#82cc59','#c4bf28','#fdbc3a','#f7db25'];
const modelPalette=['#3b26a0','#412fbc','#464cf0','#3a6fff','#2b8fec','#12b0d6','#25c0ad','#55cb7b','#a9c63a','#efb733','#fad42b'];
const W=1438,H=346,AX='#262626',SANS='"Liberation Sans",Arial,sans-serif',SERIF='"Liberation Serif",serif';
const panels=[
 {r:origRegions,p:origPalette,left:1054,top:39},
 {r:model2LeftRegions,p:modelPalette,left:228,top:837},
 {r:model2RightRegions,p:modelPalette,left:1881,top:837},
 {r:model3LeftRegions,p:modelPalette,left:228,top:1548},
 {r:model3RightRegions,p:modelPalette,left:1881,top:1548},
 {r:model4LeftRegions,p:modelPalette,left:228,top:2258},
 {r:model4RightRegions,p:modelPalette,left:1881,top:2258}
];
const grids=[],xAxes=[],yAxes=[],series=[];
function axisBase(i,isLabelled,pos,ticks){return {gridIndex:i,type:'value',position:pos,z:5,silent:true,
  axisLine:{show:true,onZero:false,lineStyle:{color:AX,width:3}},
  axisTick:{show:true,inside:true,length:15,lineStyle:{color:AX,width:2},customValues:ticks},
  splitLine:{show:false},
  axisLabel:isLabelled?{show:true,customValues:ticks,color:AX,fontFamily:SANS,fontSize:58,margin:28}:{show:false}};}
panels.forEach((pn,i)=>{
  grids.push({left:pn.left,top:pn.top,width:W,height:H});
  const xa=axisBase(i,true,'bottom',xTicks);
  Object.assign(xa,{min:0,max:19.8,name:'x/D',nameLocation:'middle',nameGap:106,nameTextStyle:{color:AX,fontFamily:SANS,fontSize:66,padding:[0,12,0,0]}});
  xAxes.push(xa);
  xAxes.push(Object.assign(axisBase(i,false,'top',xTicks),{min:0,max:19.8}));
  const ya=axisBase(i,true,'left',rTicks);
  Object.assign(ya,{min:0,max:.95,name:'r/D',nameLocation:'middle',nameGap:130,nameTextStyle:{color:AX,fontFamily:SANS,fontSize:66}});
  yAxes.push(ya);
  yAxes.push(Object.assign(axisBase(i,false,'right',rTicks),{min:0,max:.95}));
  series.push({type:'custom',xAxisIndex:i*2,yAxisIndex:i*2,clip:true,silent:true,animation:false,
    encode:{x:0,y:1},data:pn.r.map((_,k)=>[0,0,k]),
    renderItem:(params,api)=>{
      const reg=pn.r[api.value(2)],f=reg[1],pts=[];
      for(let j=0;j<f.length;j+=2)pts.push(api.coord([f[j],f[j+1]]));
      return {type:'polygon',shape:{points:pts},style:{fill:pn.p[reg[0]],stroke:'#0a0a0a',lineWidth:2.5,lineJoin:'round'}};
    }});
});
// colour bar
const cbi=panels.length,cbN=64;
grids.push({left:998,top:2902,width:1355,height:105});
xAxes.push({gridIndex:cbi,type:'value',min:0,max:1,position:'bottom',z:5,silent:true,
  axisLine:{show:true,onZero:false,lineStyle:{color:'#111',width:3}},
  axisTick:{show:true,inside:true,length:16,lineStyle:{color:'#222',width:1.5},customValues:cbTicks},
  axisLabel:{show:true,customValues:cbTicks,color:'#333',fontFamily:'"DejaVu Sans"',fontSize:46,margin:32},splitLine:{show:false}});
xAxes.push({gridIndex:cbi,type:'value',min:0,max:1,position:'top',z:5,silent:true,
  axisLine:{show:true,onZero:false,lineStyle:{color:'#111',width:3}},axisTick:{show:false},axisLabel:{show:false},splitLine:{show:false}});
yAxes.push({gridIndex:cbi,type:'value',min:0,max:1,position:'left',z:5,silent:true,
  axisLine:{show:true,onZero:false,lineStyle:{color:'#111',width:3}},axisTick:{show:false},axisLabel:{show:false},splitLine:{show:false}});
yAxes.push({gridIndex:cbi,type:'value',min:0,max:1,position:'right',z:5,silent:true,
  axisLine:{show:true,onZero:false,lineStyle:{color:'#111',width:3}},axisTick:{show:false},axisLabel:{show:false},splitLine:{show:false}});
const cbCells=[];for(let k=0;k<cbN;k++)cbCells.push([k/cbN,(k+1)/cbN]);
function cbColor(v){let j=Math.min(Math.floor(v*20),19);return echarts.color.lerp((v-cbValues[j])/.05,[cbColors[j],cbColors[j+1]]);}
series.push({type:'custom',xAxisIndex:cbi*2,yAxisIndex:cbi*2,silent:true,animation:false,encode:{x:0,y:1},
  data:cbCells.map(c=>[c[0],c[1]]),
  renderItem:(params,api)=>{
    const a=api.coord([api.value(0),1]),b=api.coord([api.value(1),0]);
    return {type:'rect',shape:{x:a[0],y:a[1],width:b[0]-a[0]+1,height:b[1]-a[1]},style:{fill:cbColor((api.value(0)+api.value(1))/2)}};
  }});
const titleY=[615,1347,2056,2767];
const chart=echarts.init(document.getElementById('c'),null,{renderer:'canvas',width:3357,height:3106});
chart.setOption({animation:false,backgroundColor:'#fff',grid:grids,xAxis:xAxes,yAxis:yAxes,series:series,
  graphic:titles.map((t,i)=>({type:'text',x:1677,y:titleY[i],style:{text:t,fill:'#111',font:'90px '+SERIF,textAlign:'center',textVerticalAlign:'middle'}}))});
</script></body></html>
